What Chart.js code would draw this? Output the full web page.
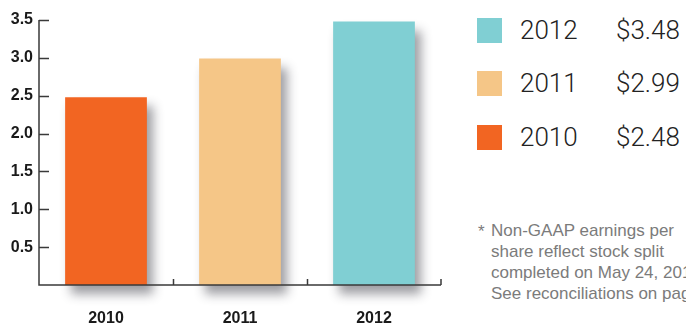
<!DOCTYPE html>
<html>
<head>
<meta charset="utf-8">
<script src="https://cdn.jsdelivr.net/npm/chart.js@4"></script>
<style>
  html, body { margin: 0; padding: 0; background: #fff; }
  body { width: 686px; height: 323px; position: relative; overflow: hidden; }
  #wrap { position: absolute; left: 0; top: 0; width: 460px; height: 323px; }
  .key { position: absolute; left: 477px; font-family: Roboto, "Liberation Sans", sans-serif; font-weight: 300; font-size: 26px; color: #222; white-space: nowrap; }
  .key .sw { position: absolute; left: 0; top: 0; width: 25px; height: 25px; }
  .key .yr { position: absolute; left: 43px; top: -3px; }
  .key .val { position: absolute; left: 139px; top: -3px; }
  #note { position: absolute; left: 478px; top: 220px; font-family: "Liberation Sans", Arial, sans-serif; font-size: 17px; line-height: 21px; color: #7b7b7b; white-space: nowrap; }
  #note .star { position: absolute; left: 0; top: 1px; }
  #note .txt { position: absolute; left: 13px; top: 0; }
</style>
</head>
<body>
<div id="wrap"><canvas id="eps"></canvas></div>
<div id="keys"></div>
<div id="note"><span class="star">*</span><span class="txt">Non-GAAP earnings per<br>share reflect stock split<br>completed on May 24, 2012.<br>See reconciliations on page</span></div>
<script>
const years = ['2010', '2011', '2012'];
const eps = [2.48, 2.99, 3.48];
const yTicks = [0.5, 1.0, 1.5, 2.0, 2.5, 3.0, 3.5];

const barColors = ['#F26522', '#F5C687', '#80CFD3'];

// legend rows on the right, newest year first
const keyTops = [18, 71, 125];
years.slice().reverse().forEach(function (yr, i) {
    const idx = years.indexOf(yr);
    const row = document.createElement('div');
    row.className = 'key';
    row.style.top = keyTops[i] + 'px';
    row.innerHTML = '<span class="sw" style="background:' + barColors[idx] + '"></span>' +
        '<span class="yr">' + yr + '</span>' +
        '<span class="val">$' + eps[idx].toFixed(2) + '</span>';
    document.getElementById('keys').appendChild(row);
});

// soft drop shadow behind the bars
const barShadow = {
    id: 'barShadow',
    beforeDatasetsDraw(chart) {
        const ctx = chart.ctx;
        ctx.save();
        ctx.shadowColor = 'rgba(40,40,50,0.45)';
        ctx.shadowBlur = 10;
        ctx.shadowOffsetX = 6;
        ctx.shadowOffsetY = 9;
    },
    afterDatasetsDraw(chart) {
        chart.ctx.restore();
    }
};

// axis lines with inward tick marks
const axisMarks = {
    id: 'axisMarks',
    afterDraw(chart) {
        const ctx = chart.ctx;
        const x = chart.scales.x, y = chart.scales.y;
        const left = chart.chartArea.left, bottom = chart.chartArea.bottom;
        ctx.save();
        ctx.strokeStyle = '#3a3a3a';
        ctx.lineWidth = 1.5;
        ctx.beginPath();
        ctx.moveTo(left, y.getPixelForValue(3.5));
        ctx.lineTo(left, bottom);
        ctx.lineTo(chart.chartArea.right, bottom);
        yTicks.forEach(function (v) {
            const py = Math.round(y.getPixelForValue(v)) + 0.5;
            ctx.moveTo(left, py);
            ctx.lineTo(left + 10, py);
        });
        for (let i = 1; i <= years.length; i++) {
            const px = Math.round((x.getPixelForValue(i - 1) + x.getPixelForValue(i)) / 2) + 0.5;
            const bx = i === years.length ? chart.chartArea.right : px;
            ctx.moveTo(bx, bottom);
            ctx.lineTo(bx, bottom - 6);
        }
        ctx.stroke();
        ctx.restore();
    }
};

new Chart(document.getElementById('eps'), {
    type: 'bar',
    data: {
        labels: years,
        datasets: [{
            data: eps,
            backgroundColor: barColors,
            borderWidth: 0,
            categoryPercentage: 0.61,
            barPercentage: 1.0,
            clip: false
        }]
    },
    options: {
        responsive: true,
        maintainAspectRatio: false,
        animation: false,
        events: [],
        layout: { padding: { top: 20, right: 19, left: 0, bottom: 0 } },
        plugins: {
            legend: { display: false },
            tooltip: { enabled: false }
        },
        scales: {
            x: {
                grid: { display: false, drawTicks: false },
                border: { display: false },
                afterFit: function (s) { s.height = 38; },
                ticks: {
                    color: '#1a1a1a',
                    padding: 24,
                    font: { family: '"Liberation Sans", Arial, sans-serif', size: 16, weight: 'bold' }
                }
            },
            y: {
                min: 0,
                max: 3.5,
                grid: { display: false, drawTicks: false },
                border: { display: false },
                afterFit: function (s) { s.width = 39; },
                ticks: {
                    stepSize: 0.5,
                    color: '#1a1a1a',
                    padding: 6,
                    font: { family: '"Liberation Sans", Arial, sans-serif', size: 16, weight: 'bold' },
                    callback: function (v) { return v === 0 ? '' : v.toFixed(1); }
                }
            }
        }
    },
    plugins: [barShadow, axisMarks]
});
</script>
</body>
</html>
